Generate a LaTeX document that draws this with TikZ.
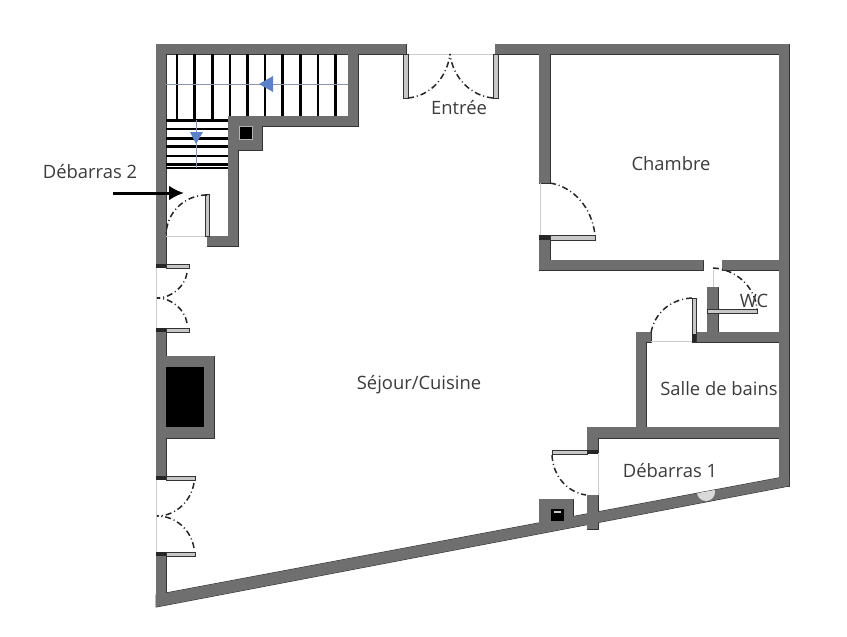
\documentclass[tikz,border=0pt]{standalone}
\usepackage{fontspec}
\setmainfont{Open Sans}
\usetikzlibrary{arrows.meta}

\definecolor{wallgray}{HTML}{6F6F6F}
\definecolor{walledge}{HTML}{333333}
\definecolor{stairblue}{HTML}{5B82C8}
\definecolor{labelgray}{HTML}{3C3C3C}

\tikzset{
    wallout/.style = {draw=walledge, line width=1pt, fill=wallgray, line join=bevel},
    wallin/.style = {fill=wallgray},
    leaf/.style = {draw=walledge, line width=0.8pt, fill=black!22},
    jamb/.style = {fill=black!85},
    swing/.style = {black!85, line width=1.5pt, dash pattern=on 6pt off 3pt on 1pt off 3pt},
    sill/.style = {black!20, line width=0.7pt},
    tread/.style = {black, line width=2.6pt},
    guide/.style = {stairblue!60!black!60, line width=1pt},
    room/.style = {text=labelgray, font=\fontsize{18.4}{21}\selectfont, inner sep=0pt}
}

% every piece of masonry, in image pixels
\newcommand{\wallparts}{
    {(156,44) rectangle (406,54)},
    {(495,44) rectangle (789,54)},
    {(156,44) rectangle (166,266)},
    {(156,330) rectangle (166,478)},
    {(156,553) rectangle (166,600)},
    {(779,44) rectangle (789,486)},
    {(156,356) rectangle (214,438)},
    {(348,54) rectangle (358,126)},
    {(228,116) rectangle (358,126)},
    {(228,116) rectangle (262,150)},
    {(228,150) rectangle (238,246)},
    {(207,236) rectangle (238,246)},
    {(539,44) rectangle (550,183)},
    {(539,237) rectangle (550,270)},
    {(539,260) rectangle (703,270)},
    {(722,260) rectangle (789,270)},
    {(707,287) rectangle (718,342)},
    {(692,332) rectangle (789,342)},
    {(636,332) rectangle (651,342)},
    {(636,332) rectangle (646,438)},
    {(587,427) rectangle (789,438)},
    {(587,427) rectangle (598,453)},
    {(587,495) rectangle (598,529)},
    {(539,499) rectangle (573,524)},
    {(156,607) -- (789,486) -- (789,476) -- (166,593) -- (156,595) -- cycle}
}

\begin{document}
\begin{tikzpicture}[x=1pt, y=-1pt]
    \useasboundingbox[fill=white] (0,0) rectangle (847,637);

    % walls, outline first and then the fill over the joints
    \foreach \part in \wallparts
    {
        \draw[wallout] \part;
    }
    \foreach \part in \wallparts
    {
        \fill[wallin] \part;
    }

    % light patch on the sloped wall
    \begin{scope}
        \clip (156,607) -- (789,486) -- (789,476) -- (166,593) -- cycle;
        \fill[black!15] (706,492) circle (9);
    \end{scope}

    % fireplace and flues
    \fill[black] (166,367) rectangle (204,427);
    \draw[black!30, fill=black, line width=0.6pt] (239,126) rectangle (252,139);
    \fill[black] (551,509) rectangle (564,521);
    \fill[white!80!black] (554,511) rectangle (561,513);

    % upper flight of the stairs
    \foreach \x in {177,194.7,212.3}
    {
        \draw[tread] (\x,54) -- (\x,120);
    }
    \foreach \x in {230,247.3,265,282.7,300.3,318,335.3}
    {
        \draw[tread] (\x,54) -- (\x,116);
    }

    % lower flight of the stairs
    \foreach \y in {120.7,129,138.3,146.7,156,164.3,168}
    {
        \draw[tread] (166,\y) -- (228,\y);
    }

    % walking lines
    \draw[guide] (166,84) -- (348,84);
    \draw[guide] (196,120) -- (196,168);
    \fill[stairblue] (259,84) -- (273,76) -- (273,92) -- cycle;
    \fill[stairblue] (196,144) -- (190,132) -- (203,132) -- cycle;

    % openings
    \draw[sill] (406,54) -- (495,54);
    \draw[sill] (540,183) -- (540,237);
    \draw[sill] (166,236) -- (207,236);
    \draw[sill] (156,266) -- (156,330);
    \draw[sill] (156,478) -- (156,553);
    \draw[sill] (651,341) -- (692,341);
    \draw[sill] (713,270) -- (713,287);
    \draw[sill] (598,453) -- (598,495);

    % door leaves
    \draw[leaf] (403,54) rectangle (408,98);
    \draw[leaf] (493,54) rectangle (498,98);
    \draw[leaf] (550,235) rectangle (595,240);
    \draw[leaf] (205,194) rectangle (209,236);
    \draw[leaf] (166,264) rectangle (189,268);
    \draw[leaf] (166,328) rectangle (189,332);
    \draw[leaf] (166,476) rectangle (195,480);
    \draw[leaf] (166,552) rectangle (195,556);
    \draw[leaf] (692,298) rectangle (696,342);
    \draw[leaf] (707,309) rectangle (757,313);
    \draw[leaf] (552,450) rectangle (587,454);

    % dark wall ends beside the leaves
    \fill[jamb] (156,264) rectangle (166,268);
    \fill[jamb] (156,328) rectangle (166,332);
    \fill[jamb] (156,476) rectangle (166,480);
    \fill[jamb] (156,552) rectangle (166,556);
    \fill[jamb] (539,235) rectangle (550,240);
    \fill[jamb] (587,450) rectangle (598,454);
    \fill[jamb] (692,334) rectangle (696,342);

    % door swings
    \draw[swing] (408,98) .. controls (430,96) and (447,78) .. (450,54);
    \draw[swing] (493,98) .. controls (471,96) and (453,78) .. (450,54);
    \draw[swing] (550,183) .. controls (574,187) and (592,208) .. (595,235);
    \draw[swing] (207,195) .. controls (184,195) and (166,213) .. (166,236);
    \draw[swing] (187,273) .. controls (185,286) and (172,298) .. (157,298);
    \draw[swing] (187,323) .. controls (185,310) and (172,298) .. (157,298);
    \draw[swing] (194,483) .. controls (191,501) and (176,516) .. (157,516);
    \draw[swing] (194,548) .. controls (191,530) and (176,516) .. (157,516);
    \draw[swing] (692,298) .. controls (670,299) and (654,314) .. (651,333);
    \draw[swing] (713,268) .. controls (736,269) and (755,287) .. (757,309);
    \draw[swing] (552,455) .. controls (553,476) and (567,492) .. (586,495);

    % room labels
    \node[room] (Entree) at (459,108) {Entrée};
    \node[room] (Chambre) at (671,164) {Chambre};
    \node[room] (WC) at (754,301) {WC};
    \node[room] (Sejour) at (419,384.5) {Séjour/Cuisine};
    \node[room] (Bains) at (719,389) {Salle de bains};
    \node[room] (Debarras_1) at (670,471) {Débarras 1};
    \node[room] (Debarras_2) at (90,172) {Débarras 2};

    % pointer to the second store room
    \coordinate (PointerTail) at (113,193);
    \coordinate (PointerTip) at (184,193);
    \draw[-{Latex[length=15pt,width=15pt]}, line width=3pt] (PointerTail) -- (PointerTip);
\end{tikzpicture}
\end{document}
